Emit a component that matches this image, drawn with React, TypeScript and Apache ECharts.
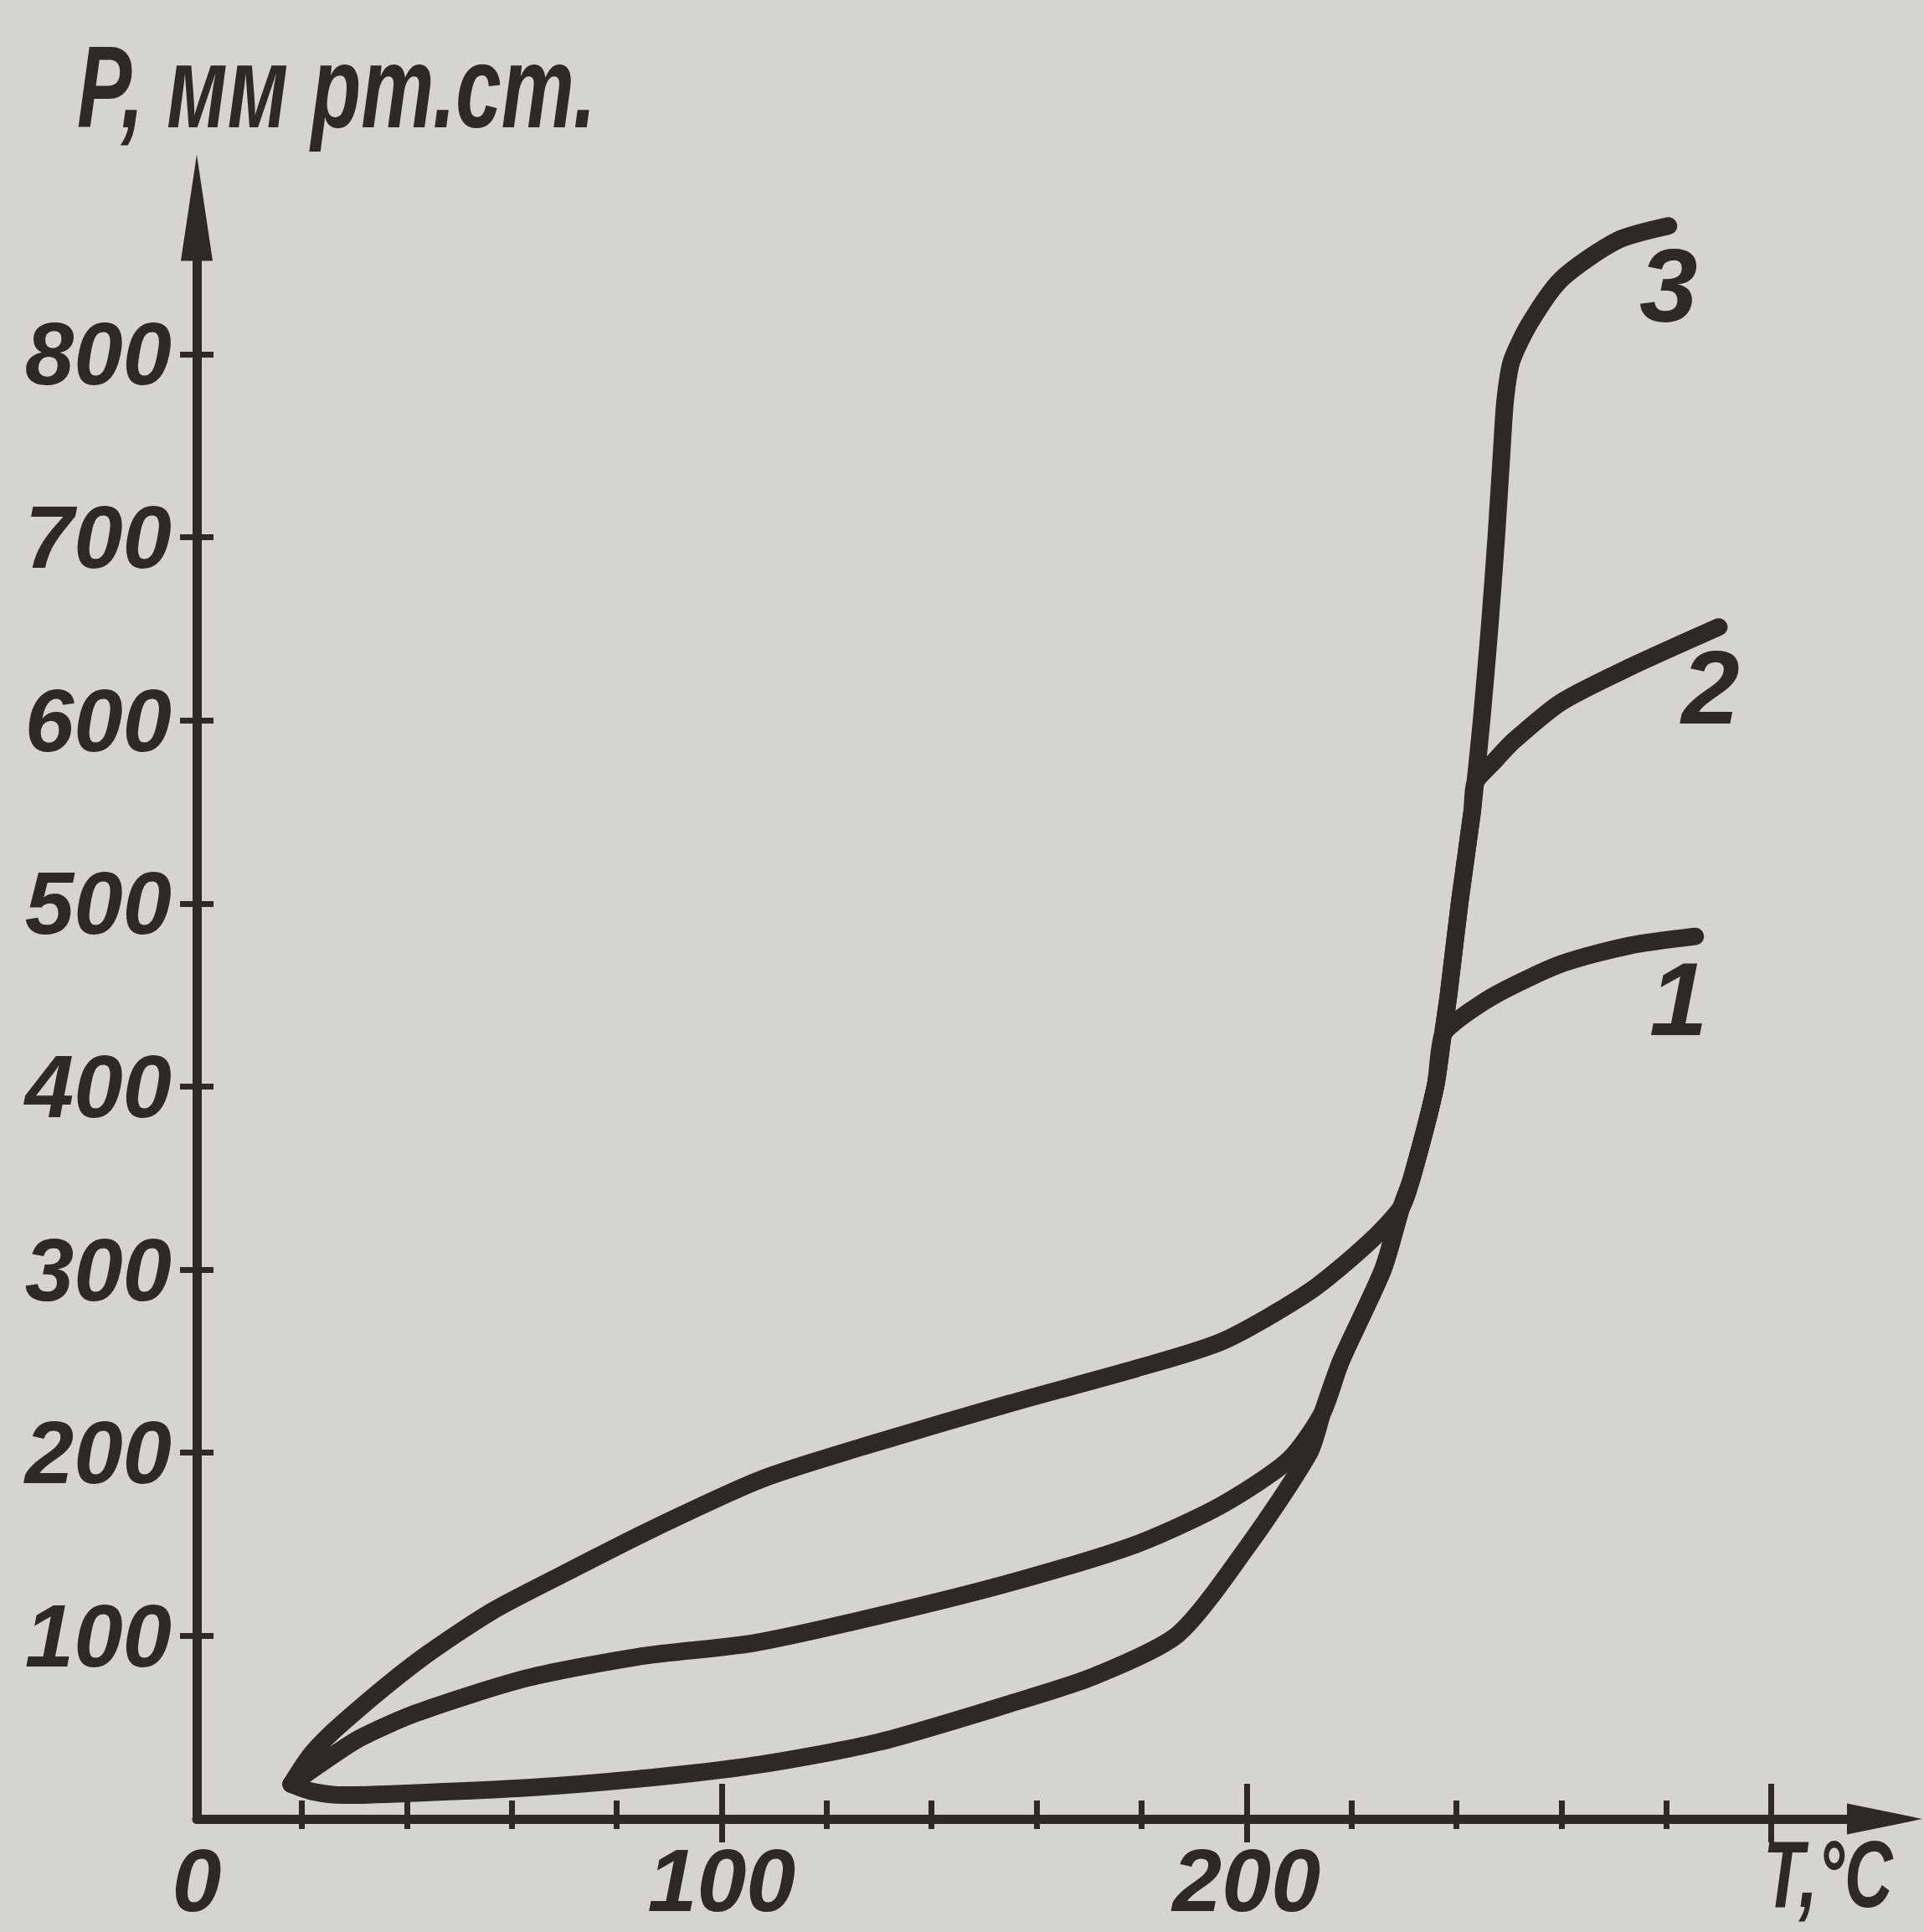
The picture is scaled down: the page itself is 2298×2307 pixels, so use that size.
import React, { useEffect, useRef } from "react";
import * as echarts from "echarts";

// ---- data (T in °C, P in мм рт.ст.) ----
const curve1: [number, number][] = [
  [18, 19], [22, 15], [28, 13], [40, 14], [63, 17], [88, 23], [108, 30], [130, 42], [155, 63],
  [171, 78], [187, 101], [200.5, 150], [212, 200], [214.5, 222], [218, 250], [226, 300],
  [229.5, 334], [231.5, 350], [236, 400], [237.4, 428], [241, 438], [248, 451], [260, 467],
  [273, 477], [285.5, 482],
];
const curve2: [number, number][] = [
  [18, 19], [22, 27], [31, 44], [42, 58], [63, 77], [85, 89], [106, 96], [130, 111],
  [155, 129], [179, 150], [195, 171], [208, 196], [214.5, 222], [218, 250], [226, 300],
  [229.5, 334], [231.5, 350], [236, 400], [237.4, 428], [238.5, 450], [240.6, 500],
  [243, 550], [243.6, 566], [247, 577], [251, 589], [260, 610], [273, 629], [290, 651],
];
const curve3: [number, number][] = [
  [18, 19], [22, 36], [28, 53], [42, 86], [56, 113], [70, 134], [88, 160], [108, 186],
  [130, 206], [155, 227], [179, 246], [195.5, 261], [212, 288], [223, 314], [229.5, 334],
  [231.5, 350], [236, 400], [237.4, 428], [238.5, 450], [240.6, 500], [243, 550],
  [243.6, 566], [244.8, 600], [246.3, 650], [247.6, 700], [248.7, 750], [249.3, 775],
  [250.5, 796], [254, 817], [260, 841], [270.6, 862], [280.4, 870],
];
const curveNames = ["1", "2", "3"];
const curveLabelOffsets: [number, number][] = [[-20, 74], [-10, 72], [0, 71]];

const yTickValues = [100, 200, 300, 400, 500, 600, 700, 800];
const xLabelValues = [0, 100, 200];
const xMinorTicks = [20, 40, 60, 80, 120, 140, 160, 180, 220, 240, 260, 280];
const xMajorTicks = [100, 200, 300];

const xAxisTitle = "T,°C";
const yAxisTitle = "P, мм рт.ст.";

const INK = "#2e2927";
const BG = "#d5d4cf";
const FONT = "'Liberation Sans', Arial, sans-serif";

const textBase = {
  color: INK,
  fontFamily: FONT,
  fontStyle: "italic" as const,
  fontWeight: "bold" as const,
};

export default function App() {
  const ref = useRef<HTMLDivElement>(null);

  useEffect(() => {
    if (!ref.current) return;
    const chart = echarts.init(ref.current, undefined, { renderer: "svg" });

    const xBase = {
      type: "value" as const,
      position: "bottom" as const,
      min: 0,
      max: 320,
      interval: 20,
      splitLine: { show: false },
    };
    const yBase = {
      type: "value" as const,
      position: "left" as const,
      min: 0,
      max: 880,
      interval: 100,
      splitLine: { show: false },
    };

    const curves = [curve1, curve2, curve3];
    const titleStyle = {
      fill: INK,
      fontFamily: FONT,
      fontStyle: "italic",
      fontWeight: "bold",
      verticalAlign: "middle",
      align: "left",
    };

    chart.setOption({
      animation: false,
      backgroundColor: BG,
      grid: {
        left: 235,
        right: 57,
        top: 248,
        bottom: 135,
        containLabel: false,
        outerBoundsMode: "none",
      },
      graphic: [
        {
          type: "text",
          x: 92,
          y: 104,
          scaleX: 0.7,
          silent: true,
          style: { ...titleStyle, text: yAxisTitle, fontSize: 140 },
        },
        {
          type: "text",
          x: 2106,
          y: 2238,
          scaleX: 0.7,
          silent: true,
          style: { ...titleStyle, text: xAxisTitle, fontSize: 114 },
        },
      ],
      xAxis: [
        {
          ...xBase,
          axisLine: {
            show: true,
            onZero: false,
            symbol: ["none", "triangle"],
            symbolSize: [37, 90],
            symbolOffset: [0, 10],
            lineStyle: { color: INK, width: 11 },
          },
          axisTick: { show: true, inside: false, length: 12, customValues: xMinorTicks, lineStyle: { color: INK, width: 7 } },
          axisLabel: { show: true, customValues: xLabelValues, margin: 20, ...textBase, fontSize: 106 },
        },
        {
          ...xBase,
          axisLine: { show: false, onZero: false },
          axisTick: { show: true, inside: true, length: 22, customValues: xMinorTicks, lineStyle: { color: INK, width: 7 } },
          axisLabel: { show: false },
        },
        {
          ...xBase,
          axisLine: { show: false, onZero: false },
          axisTick: { show: true, inside: false, length: 28, customValues: xMajorTicks, lineStyle: { color: INK, width: 7 } },
          axisLabel: { show: false },
        },
        {
          ...xBase,
          axisLine: { show: false, onZero: false },
          axisTick: { show: true, inside: true, length: 42, customValues: xMajorTicks, lineStyle: { color: INK, width: 7 } },
          axisLabel: { show: false },
        },
      ],
      yAxis: [
        {
          ...yBase,
          axisLine: {
            show: true,
            onZero: false,
            symbol: ["none", "triangle"],
            symbolSize: [38, 127],
            symbolOffset: [0, 0],
            lineStyle: { color: INK, width: 11 },
          },
          axisTick: { show: true, inside: false, length: 20, customValues: yTickValues, lineStyle: { color: INK, width: 7 } },
          axisLabel: { show: true, customValues: yTickValues, margin: 30, ...textBase, fontSize: 105 },
        },
        {
          ...yBase,
          axisLine: { show: false, onZero: false },
          axisTick: { show: true, inside: true, length: 20, customValues: yTickValues, lineStyle: { color: INK, width: 7 } },
          axisLabel: { show: false },
        },
      ],
      series: curves.map((data, i) => ({
        type: "line",
        name: curveNames[i],
        xAxisIndex: 0,
        yAxisIndex: 0,
        data,
        showSymbol: false,
        symbol: "none",
        smooth: 0.25,
        silent: true,
        lineStyle: { color: INK, width: 21, cap: "round", join: "round" },
        markPoint: {
          symbol: "circle",
          symbolSize: 1,
          silent: true,
          itemStyle: { color: "rgba(0,0,0,0)" },
          label: {
            show: true,
            formatter: curveNames[i],
            position: "inside",
            offset: curveLabelOffsets[i],
            ...textBase,
            fontSize: 125,
          },
          data: [{ coord: data[data.length - 1] }],
        },
      })),
    });

    return () => chart.dispose();
  }, []);

  return (
    <div
      ref={ref}
      style={{ position: "absolute", left: 0, top: 0, width: 2298, height: 2307 }}
    />
  );
}
